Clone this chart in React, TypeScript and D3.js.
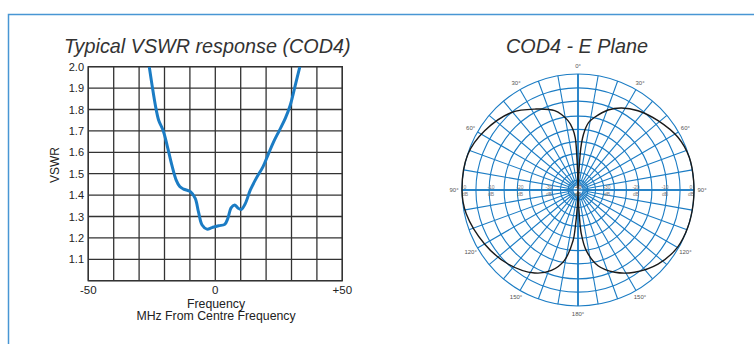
import React from "react";
import * as d3 from "d3";

// ---- VSWR response (frequency offset in MHz vs VSWR) ----
const freqMHz = [
  -26.0, -24.9, -23.6, -22.3, -20.6, -19.0, -17.1, -15.4, -14.0, -12.5, -9.8, -7.9,
  -6.6, -5.2, -3.3, -1.3, 1.3, 3.7, 4.9, 6.2, 7.6, 8.9, 10.2, 11.8, 13.8, 16.1,
  18.8, 21.0, 23.0, 25.3, 27.6, 29.5, 31.5, 33.3,
];
const vswr = [
  2.0, 1.914, 1.82, 1.75, 1.704, 1.634, 1.54, 1.47, 1.44, 1.428, 1.416, 1.385,
  1.32, 1.26, 1.241, 1.248, 1.257, 1.263, 1.29, 1.34, 1.354, 1.34, 1.333, 1.36,
  1.424, 1.478, 1.533, 1.595, 1.65, 1.704, 1.76, 1.82, 1.914, 2.0,
];
const vswrTicks = [1.1, 1.2, 1.3, 1.4, 1.5, 1.6, 1.7, 1.8, 1.9, 2.0];
const vswrGrid = [1.0, 1.1, 1.2, 1.3, 1.4, 1.5, 1.6, 1.7, 1.8, 1.9, 2.0];
const freqGrid = [-50, -40, -30, -20, -10, 0, 10, 20, 30, 40, 50];
const freqLabels = [-50, 0, 50];

// ---- E-plane radiation pattern (bearing in degrees, relative radius 0..1) ----
const patternAngle = [
  0, 2.5, 3.2, 3.8, 5, 6.4, 9, 12.9, 20.6, 27.9, 37.1, 49.1, 62.2, 73.7, 85.4, 96.8,
  108.5, 119.8, 132.8, 145.5, 155.9, 165.2, 172.2, 175.7, 177, 178.2,
  180, 181.5, 183, 184, 185.6, 191, 198.3, 207.6, 223.4, 240, 258, 270, 288, 302.4,
  319.4, 332, 343.6, 351.8, 355, 357, 358, 358.8,
];
const patternLevel = [
  0, 0.1, 0.25, 0.36, 0.45, 0.515, 0.59, 0.643, 0.737, 0.8, 0.857, 0.913, 0.974, 1.0, 1.0, 1.0,
  1.0, 0.99, 0.94, 0.86, 0.777, 0.675, 0.528, 0.38, 0.22, 0.08,
  0, 0.08, 0.2, 0.3, 0.44, 0.62, 0.73, 0.807, 0.878, 0.93, 0.985, 1.0, 0.998, 0.953,
  0.88, 0.79, 0.713, 0.604, 0.53, 0.45, 0.3, 0.15,
];
const ringLevels = [1, 0.88, 0.766, 0.637, 0.523, 0.417, 0.314, 0.223, 0.151, 0.086];
const spokeAngles = d3.range(0, 360, 10);
const bearingLabels = [0, 30, 60, 90, 120, 150, 180, 210, 240, 270, 300, 330];
const scaleLevels = [0, 0.25, 0.5, 0.75, 1];
const scaleLabels = ["-40", "-30", "-20", "-10", "0"];

const BLUE = "#1b7cc4";
const GRID = "#333333";

function VswrChart() {
  const left = 88.3, right = 342.3, top = 66.7, bottom = 280.7;
  const x = d3.scaleLinear().domain([-50, 50]).range([left, right]);
  const y = d3.scaleLinear().domain([1, 2]).range([bottom, top]);
  const pts: [number, number][] = freqMHz.map((f, i) => [f, vswr[i]]);
  const path = d3
    .line<[number, number]>()
    .x((d) => x(d[0]))
    .y((d) => y(d[1]))
    .curve(d3.curveCatmullRom.alpha(0.5))(pts) as string;
  const font = "'Liberation Sans', Arial, sans-serif";
  return (
    <g fontFamily={font}>
      <defs>
        <clipPath id="vswr-clip">
          <rect x={left} y={top} width={right - left} height={bottom - top} />
        </clipPath>
      </defs>
      <rect x={left} y={top} width={right - left} height={bottom - top} fill="#fff" />
      {freqGrid.map((f) => (
        <line key={"vx" + f} x1={x(f)} x2={x(f)} y1={top} y2={bottom} stroke={GRID} strokeWidth={1.3} />
      ))}
      {vswrGrid.map((v) => (
        <line key={"vy" + v} x1={left} x2={right} y1={y(v)} y2={y(v)} stroke={GRID} strokeWidth={1.3} />
      ))}
      <rect x={left} y={top} width={right - left} height={bottom - top} fill="none" stroke={GRID} strokeWidth={1.4} />
      <path d={path} fill="none" stroke={BLUE} strokeWidth={3} strokeLinejoin="round" clipPath="url(#vswr-clip)" />
      {vswrTicks.map((v) => (
        <text key={"ty" + v} x={84} y={y(v) + 4} textAnchor="end" fontSize={11} fill="#222">
          {v.toFixed(1)}
        </text>
      ))}
      {freqLabels.map((f) => (
        <text key={"tx" + f} x={x(f)} y={294} textAnchor="middle" fontSize={11.5} fill="#222">
          {f > 0 ? "+" + f : String(f)}
        </text>
      ))}
      <text x={216} y={307.5} textAnchor="middle" fontSize={12.3} fill="#222">Frequency</text>
      <text x={216} y={320} textAnchor="middle" fontSize={12.3} fill="#222">MHz From Centre Frequency</text>
      <text transform="translate(59,165) rotate(-90)" textAnchor="middle" fontSize={12} fill="#222">VSWR</text>
    </g>
  );
}

function PolarChart() {
  const cx = 578, cy = 190, R = 116;
  const r = d3.scaleLinear().domain([0, 1]).range([0, R]);
  const rad = (a: number) => (a * Math.PI) / 180;
  const pts: [number, number][] = patternAngle.map((a, i) => [rad(a), r(patternLevel[i])]);
  const path = d3
    .lineRadial<[number, number]>()
    .angle((d) => d[0])
    .radius((d) => d[1])
    .curve(d3.curveCatmullRomClosed.alpha(0.5))(pts) as string;
  const font = "'Liberation Sans', Arial, sans-serif";
  return (
    <g transform={`translate(${cx},${cy})`} fontFamily={font}>
      {ringLevels.map((lv) => (
        <circle key={"ring" + lv} r={r(lv)} fill="none" stroke={BLUE} strokeWidth={1.1} />
      ))}
      {spokeAngles.map((a) => (
        <line
          key={"sp" + a}
          x1={Math.sin(rad(a)) * r(0.04)}
          y1={-Math.cos(rad(a)) * r(0.04)}
          x2={Math.sin(rad(a)) * R}
          y2={-Math.cos(rad(a)) * R}
          stroke={BLUE}
          strokeWidth={a % 90 === 0 ? 1.5 : 1.1}
        />
      ))}
      <line x1={-R} x2={R} y1={0} y2={0} stroke={BLUE} strokeWidth={1.6} />
      <line x1={0} x2={0} y1={-R} y2={R} stroke={BLUE} strokeWidth={1.3} />
      {scaleLevels.map((lv, i) =>
        [1, -1].map((side) => (
          <g key={"sl" + lv + side} fontSize={5} fill="#777" textAnchor="middle">
            <text x={side * r(lv) - side * (lv === 1 ? 3 : 0)} y={-1.5}>{scaleLabels[i]}</text>
            <text x={side * r(lv) - side * (lv === 1 ? 3 : 0)} y={6}>dB</text>
          </g>
        ))
      )}
      <path d={path} fill="none" stroke="#1a1a1a" strokeWidth={1.4} strokeLinejoin="round" />
      {bearingLabels.map((a) => (
        <text
          key={"bl" + a}
          x={Math.sin(rad(a)) * 124}
          y={-Math.cos(rad(a)) * 124 + 2}
          textAnchor="middle"
          fontSize={6}
          fill="#555"
        >
          {Math.min(a, 360 - a) + "°"}
        </text>
      ))}
    </g>
  );
}

export default function App() {
  const titleFont = "'Liberation Sans', Arial, sans-serif";
  return (
    <div style={{ position: "absolute", left: 0, top: 0 }}>
      <svg width={754} height={344} viewBox="0 0 754 344" style={{ display: "block", background: "#fff" }}>
        <rect x={8.5} y={14.5} width={760} height={340} fill="none" stroke="#4896d4" strokeWidth={1.5} />
        <text x={64} y={53} fontFamily={titleFont} fontStyle="italic" fontSize={19.8} fill="#333">
          Typical VSWR response (COD4)
        </text>
        <text x={577} y={53} textAnchor="middle" fontFamily={titleFont} fontStyle="italic" fontSize={19.8} fill="#333">
          COD4 - E Plane
        </text>
        <VswrChart />
        <PolarChart />
      </svg>
    </div>
  );
}
